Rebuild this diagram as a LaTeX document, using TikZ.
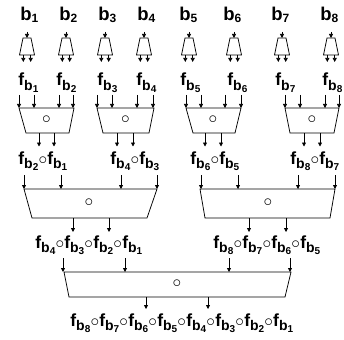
\documentclass[tikz,border=0pt]{standalone}
\usepackage{fontspec}
\setmainfont{Liberation Sans}
\usetikzlibrary{arrows.meta}
\newcommand\Fb[1]{f\raisebox{-4.5pt}{\fontsize{14}{14}\selectfont b\raisebox{-2pt}{\fontsize{10}{10}\selectfont #1}}}
\newcommand\Bs[1]{b\raisebox{-2pt}{\fontsize{12}{12}\selectfont #1}}
\newcommand\Cp{\hspace{0.2pt}{\fontsize{19}{19}\selectfont$\circ$}\hspace{0.2pt}}
\begin{document}
\begin{tikzpicture}[x=1pt,y=-1pt,line width=0.75pt,
  arr/.style={-{Triangle[length=4pt,width=4pt]}},
  blab/.style={anchor=base west,inner sep=0pt,font=\bfseries\fontsize{18.5}{18.5}\selectfont},
  flab/.style={anchor=base west,inner sep=0pt,font=\bfseries\fontsize{17.5}{17.5}\selectfont},
  op/.style={inner sep=0pt,font=\fontsize{17}{17}\selectfont}]
\useasboundingbox (0,0) rectangle (344,339);
% top labels
\foreach \i/\x in {1/20,2/59,3/98,4/137,5/179,6/223,7/271,8/320}
  \node[blab] (b\i) at (\x,21) {\Bs{\i}};
% small trapezoids
\foreach \i/\c in {1/27,2/66,3/105,4/144,5/189,6/234,7/282,8/331}{
  \coordinate (s\i) at (\c,38);
  \draw (\c-4,38) -- (\c+4,38) -- (\c+7.5,55) -- (\c-7.5,55) -- cycle;
  \draw[arr] (\c,32) -- (s\i);
  \draw[arr] (\c-3.7,55) -- (\c-3.7,62);
  \draw[arr] (\c+3.7,55) -- (\c+3.7,62);
}
% f labels
\foreach \i/\x in {1/18,2/56,3/97,4/136,5/180,6/227,7/275,8/322}
  \node[flab] (f\i) at (\x,86) {\Fb{\i}};
% level 1 trapezoids: name/topL/topR/botL/botR/in1/in2/in3/in4/out1/out2/circ
\foreach \n/\a/\b/\c/\d/\p/\q/\r/\s/\u/\v/\o in
  {A/19/74/26/69/19/34/59/73/39/54/46.5,
   B/97/154/103/149/97/112/137/153/117/133/125.5,
   C/186/241/193/235/186/201/225/241/205/221/213,
   D/285/339/290/334/285/300/325/339/304/320/312}{
  \draw (\a,108) -- (\b,108) -- (\d,133) -- (\c,133) -- cycle;
  \node[op] (o\n) at (\o,119.5) {$\circ$};
  \foreach \t in {\p,\q,\r,\s} \draw[arr] (\t,95) -- (\t,108);
  \foreach \t in {\u,\v} \draw[arr] (\t,133) -- (\t,146.5);
}
% level 2 labels
\node[flab] (g1) at (18,164) {\Fb{2}\Cp\Fb{1}};
\node[flab] (g2) at (110,164) {\Fb{4}\Cp\Fb{3}};
\node[flab] (g3) at (190,164) {\Fb{6}\Cp\Fb{5}};
\node[flab] (g4) at (290,164) {\Fb{8}\Cp\Fb{7}};
% level 2 trapezoids
\foreach \n/\a/\b/\c/\d/\p/\q/\r/\s/\u/\v/\o in
  {E/24/157/32/147/24/61/121/157/73/109/89,
   F/200/335/205/330/201/238/298/335/249/286/268}{
  \draw (\a,189) -- (\b,189) -- (\d,218) -- (\c,218) -- cycle;
  \node[op] (o\n) at (\o,202.5) {$\circ$};
  \foreach \t in {\p,\q,\r,\s} \draw[arr] (\t,175) -- (\t,189);
  \foreach \t in {\u,\v} \draw[arr] (\t,218) -- (\t,232);
}
% level 3 labels
\node[flab] (h1) at (35,248) {\Fb{4}\Cp\Fb{3}\Cp\Fb{2}\Cp\Fb{1}};
\node[flab] (h2) at (213,248) {\Fb{8}\Cp\Fb{7}\Cp\Fb{6}\Cp\Fb{5}};
% level 3 trapezoid
\draw (64,272) -- (291,272) -- (285,297) -- (69,297) -- cycle;
\node[op] (oG) at (177,283.5) {$\circ$};
\foreach \t in {63,125,229,290} \draw[arr] (\t,258) -- (\t,272);
\foreach \t in {146,208} \draw[arr] (\t,297) -- (\t,309);
% final label
\node[flab] (fin) at (70,326) {\Fb{8}\Cp\Fb{7}\Cp\Fb{6}\Cp\Fb{5}\Cp\Fb{4}\Cp\Fb{3}\Cp\Fb{2}\Cp\Fb{1}};
\end{tikzpicture}
\end{document}
